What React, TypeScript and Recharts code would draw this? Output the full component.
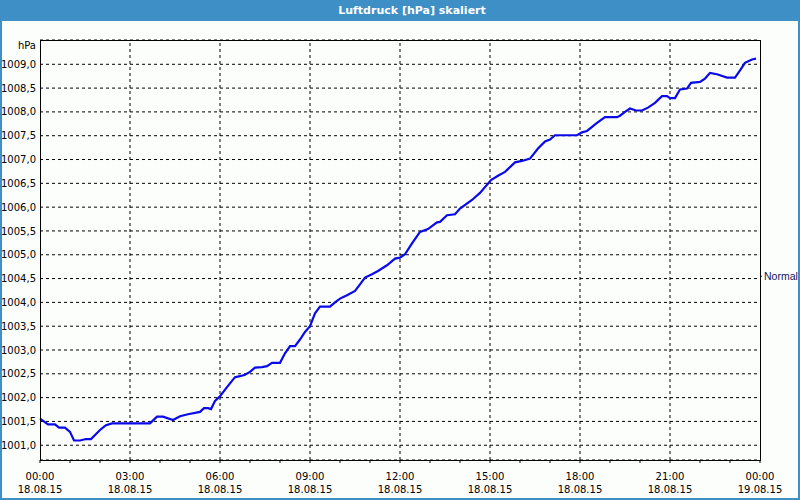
import React from "react";
import {
  LineChart,
  Line,
  XAxis,
  YAxis,
  CartesianGrid,
  ReferenceLine,
} from "recharts";

// minutes since 18.08.15 00:00
const TIMES = [
  0, 16, 30, 38, 50, 60, 68, 80, 92, 102, 120, 132, 144, 220, 234, 246, 266,
  280, 296, 320, 328, 336, 342, 350, 360, 374, 390, 400, 410, 420, 430, 444,
  454, 464, 480, 490, 500, 510, 520, 530, 540, 550, 560, 580, 590, 600, 614,
  630, 640, 650, 664, 676, 694, 710, 720, 730, 744, 760, 776, 794, 800, 814,
  830, 840, 864, 880, 902, 916, 930, 950, 964, 980, 996, 1010, 1020, 1030,
  1074, 1084, 1094, 1114, 1130, 1154, 1160, 1170, 1180, 1192, 1204, 1216,
  1230, 1244, 1254, 1260, 1270, 1280, 1294, 1302, 1320, 1330, 1340, 1354,
  1374, 1390, 1400, 1410, 1424, 1432,
];

// hPa
const PRESSURE = [
  1001.56, 1001.44, 1001.44, 1001.37, 1001.37, 1001.28, 1001.1, 1001.1,
  1001.13, 1001.13, 1001.32, 1001.42, 1001.46, 1001.46, 1001.6, 1001.6,
  1001.53, 1001.61, 1001.65, 1001.7, 1001.78, 1001.78, 1001.76, 1001.93,
  1002.03, 1002.22, 1002.43, 1002.45, 1002.48, 1002.54, 1002.63, 1002.64,
  1002.66, 1002.73, 1002.73, 1002.93, 1003.08, 1003.08, 1003.22, 1003.38,
  1003.5, 1003.77, 1003.91, 1003.91, 1004.0, 1004.08, 1004.15, 1004.24,
  1004.38, 1004.52, 1004.59, 1004.66, 1004.78, 1004.92, 1004.94, 1005.01,
  1005.24, 1005.48, 1005.54, 1005.68, 1005.69, 1005.83, 1005.85, 1005.97,
  1006.15, 1006.3, 1006.57, 1006.66, 1006.74, 1006.94, 1006.97, 1007.02,
  1007.23, 1007.38, 1007.42, 1007.51, 1007.51, 1007.57, 1007.6, 1007.77,
  1007.89, 1007.89, 1007.92, 1008.0, 1008.07, 1008.03, 1008.03, 1008.09,
  1008.19, 1008.33, 1008.33, 1008.29, 1008.29, 1008.47, 1008.49, 1008.61,
  1008.63, 1008.7, 1008.82, 1008.79, 1008.72, 1008.72, 1008.87, 1009.03,
  1009.1, 1009.12,
];

const Y_TICKS = [
  1001, 1001.5, 1002, 1002.5, 1003, 1003.5, 1004, 1004.5, 1005, 1005.5, 1006,
  1006.5, 1007, 1007.5, 1008, 1008.5, 1009,
];
const HOUR_TICKS = [
  0, 60, 120, 180, 240, 300, 360, 420, 480, 540, 600, 660, 720, 780, 840, 900,
  960, 1020, 1080, 1140, 1200, 1260, 1320, 1380, 1440,
];
const GRID_TIMES = [180, 360, 540, 720, 900, 1080, 1260];
const DATES = ["18.08.15", "19.08.15"];
const NORMAL = 1004.55;

const data = TIMES.map((t, i) => ({ t, p: PRESSURE[i] }));

const FONT = "'DejaVu Sans', sans-serif";

const TimeTick = (props: any) => {
  const { x, y, payload } = props;
  const m = payload.value;
  if (m % 180 !== 0) return null;
  const hh = String(Math.floor(m / 60) % 24).padStart(2, "0");
  const date = m >= 1440 ? DATES[1] : DATES[0];
  return (
    <g>
      <text x={x} y={y + 15} textAnchor="middle" fontSize={10} fill="#000" fontFamily={FONT}>
        {hh + ":00"}
      </text>
      <text x={x} y={y + 28} textAnchor="middle" fontSize={10} fill="#000" fontFamily={FONT}>
        {date}
      </text>
    </g>
  );
};

export default function App() {
  return (
    <div
      style={{
        position: "relative",
        width: 800,
        height: 500,
        background: "#fcfefc",
        fontFamily: FONT,
      }}
    >
      <style>{`body{margin:0}`}</style>
      <LineChart
        width={800}
        height={500}
        data={data}
        margin={{ top: 40, right: 0, bottom: 0, left: 0 }}
      >
        <CartesianGrid vertical={false} stroke="#000" strokeDasharray="3 3" />
        <XAxis
          dataKey="t"
          type="number"
          domain={[0, 1440]}
          ticks={HOUR_TICKS}
          height={40}
          axisLine={false}
          tickSize={3}
          tickLine={{ stroke: "#000" }}
          tick={<TimeTick />}
          interval={0}
        />
        <YAxis
          type="number"
          domain={[1000.69, 1009.51]}
          ticks={Y_TICKS}
          width={40}
          axisLine={false}
          tickLine={false}
          tickSize={0}
          tickMargin={4}
          interval={0}
          allowDataOverflow
          tickFormatter={(v: number) => v.toFixed(1).replace(".", ",")}
          tick={{ fontSize: 10, fill: "#000", fontFamily: FONT }}
        />
        <YAxis
          yAxisId="right"
          orientation="right"
          type="number"
          domain={[1000.69, 1009.51]}
          ticks={[NORMAL]}
          width={40}
          axisLine={false}
          tickSize={2}
          tickMargin={2}
          tickLine={{ stroke: "#333" }}
          interval={0}
          allowDataOverflow
          tickFormatter={() => "Normal"}
          tick={{ fontSize: 10.5, fill: "#14145a", fontFamily: "'Liberation Sans', sans-serif" }}
        />
        {GRID_TIMES.map((t) => (
          <ReferenceLine key={t} x={t} stroke="#000" strokeDasharray="3 3" />
        ))}
        <Line
          type="linear"
          dataKey="p"
          stroke="#0a0ae8"
          strokeWidth={2.2}
          dot={false}
          isAnimationActive={false}
        />
      </LineChart>
      <div
        style={{
          position: "absolute",
          left: 40,
          top: 40,
          width: 721,
          height: 421,
          boxSizing: "border-box",
          border: "1px solid #000",
          pointerEvents: "none",
        }}
      />
      <div
        style={{
          position: "absolute",
          left: 0,
          top: 40,
          width: 36,
          textAlign: "right",
          fontSize: 10,
          lineHeight: "12px",
          color: "#000",
        }}
      >
        hPa
      </div>
      <div
        style={{
          position: "absolute",
          left: 0,
          top: 0,
          width: 800,
          height: 500,
          boxSizing: "border-box",
          border: "2px solid #3d8fc6",
          pointerEvents: "none",
        }}
      />
      <div
        style={{
          position: "absolute",
          left: 0,
          top: 0,
          width: 800,
          height: 21,
          background: "#3d8fc6",
          color: "#fff",
          fontWeight: "bold",
          fontSize: 11,
          lineHeight: "21px",
          textAlign: "center",
          paddingLeft: 24,
          boxSizing: "border-box",
        }}
      >
        Luftdruck [hPa] skaliert
      </div>
    </div>
  );
}
